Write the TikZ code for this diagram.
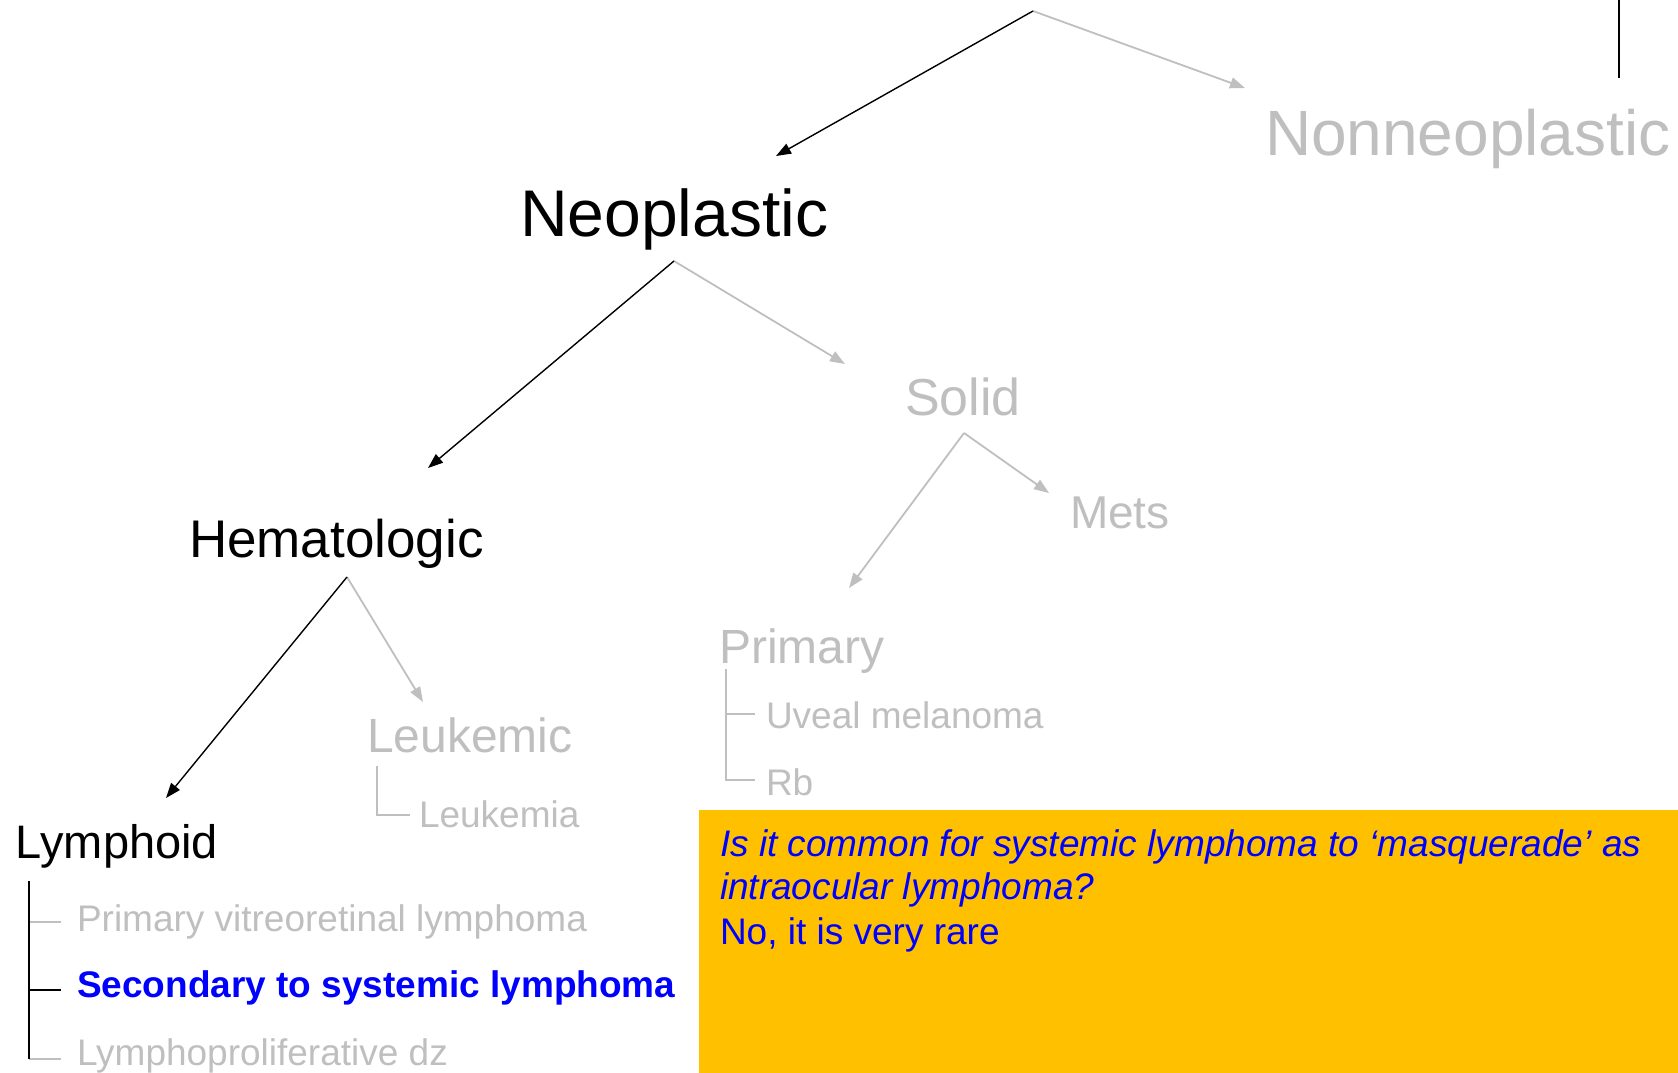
\documentclass[tikz,border=0pt]{standalone}
\usepackage{fontspec}
\setmainfont{Liberation Sans}
\usetikzlibrary{arrows.meta}
\definecolor{lgrey}{HTML}{BFBFBF}
\definecolor{gold}{HTML}{FFC000}
\definecolor{qblue}{HTML}{0000FF}
\newcommand{\fs}[1]{\fontsize{#1}{#1}\selectfont}
\tikzset{
  lbl/.style={anchor=base west, inner sep=0pt, outer sep=0pt},
  blk/.style={draw=black, line width=1.4pt, -{Triangle[length=15pt,width=11pt]}},
  gry/.style={draw=lgrey, line width=1.8pt, -{Triangle[length=15pt,width=11pt]}},
  brk/.style={draw=lgrey, line width=1.5pt},
  brkb/.style={draw=black, line width=1.5pt},
}
\begin{document}
\begin{tikzpicture}[x=1pt,y=1pt]
\useasboundingbox (0,0) rectangle (1678,-1073);
% texts
\node[lbl, text=lgrey, font=\fs{64}] (nonneo) at (1265,-155) {Nonneoplastic};
\node[lbl, text=black, font=\fs{66}] (neo) at (520,-236) {Neoplastic};
\node[lbl, text=lgrey, font=\fs{52}] (solid) at (905,-415) {Solid};
\node[lbl, text=lgrey, font=\fs{46}] (mets) at (1070,-528) {Mets};
\node[lbl, text=black, font=\fs{53}] (hema) at (189,-557) {Hematologic};
\node[lbl, text=lgrey, font=\fs{48}] (prim) at (719,-663) {Primary};
\node[lbl, text=lgrey, font=\fs{37}] (uveal) at (766,-728) {Uveal melanoma};
\node[lbl, text=lgrey, font=\fs{37}] (rb) at (766,-795) {Rb};
\node[lbl, text=lgrey, font=\fs{48}] (leukc) at (367,-752) {Leukemic};
\node[lbl, text=lgrey, font=\fs{37}] (leuka) at (419,-827) {Leukemia};
\node[lbl, text=black, font=\fs{47}] (lymph) at (16,-858) {Lymphoid};
\node[lbl, text=lgrey, font=\fs{37}] (pvrl) at (77,-931) {Primary vitreoretinal lymphoma};
\node[lbl, text=qblue, font=\fs{37}\bfseries] (sec) at (77,-997) {Secondary to systemic lymphoma};
\node[lbl, text=lgrey, font=\fs{37}] (lpd) at (77,-1065) {Lymphoproliferative dz};
% top vertical line
\coordinate (vt) at (1619,0);
\coordinate (vb) at (1619,-78);
\draw[black, line width=1.5pt] (vt) -- (vb);
% arrow vertices and tips
\coordinate (top) at (1033,-11);
\coordinate (tneo) at (776,-156);
\coordinate (tnon) at (1245,-88);
\coordinate (vneo) at (674,-261);
\coordinate (thema) at (428,-468);
\coordinate (tsolid) at (845,-364);
\coordinate (vsolid) at (964,-433);
\coordinate (tprim) at (849,-588);
\coordinate (tmets) at (1049,-493);
\coordinate (vhema) at (347,-577);
\coordinate (tlymph) at (166,-798);
\coordinate (tleuk) at (423,-702);
\draw[gry] (top) -- (tnon);
\draw[blk] (top) -- (tneo);
\draw[gry] (vneo) -- (tsolid);
\draw[blk] (vneo) -- (thema);
\draw[gry] (vsolid) -- (tprim);
\draw[gry] (vsolid) -- (tmets);
\draw[gry] (vhema) -- (tleuk);
\draw[blk] (vhema) -- (tlymph);
% brackets
\coordinate (pb1) at (726,-669);
\coordinate (pb2) at (726,-714);
\coordinate (pb3) at (726,-780);
\draw[brk] (pb1) -- (pb3) -- ++(29,0);
\draw[brk] (pb2) -- ++(29,0);
\coordinate (lb1) at (377,-766);
\coordinate (lb2) at (377,-815);
\draw[brk] (lb1) -- (lb2) -- ++(33,0);
\coordinate (yb1) at (29,-881);
\coordinate (yb2) at (29,-922);
\coordinate (yb3) at (29,-990);
\coordinate (yb4) at (29,-1059);
\draw[brk] (yb2) -- ++(32,0);
\draw[brk] (yb4) -- ++(32,0);
\draw[brkb] (yb3) -- ++(32,0);
\draw[brkb] (yb1) -- (yb4);
% box
\node[fill=gold, draw=none, minimum width=979pt, minimum height=263pt, inner sep=0pt, anchor=north west] (box) at (699,-810) {};
\node[lbl, text=qblue, font=\fs{37}\itshape] (q1) at (720,-856) {Is it common for systemic lymphoma to ‘masquerade’ as};
\node[lbl, text=qblue, font=\fs{37}\itshape] (q2) at (720,-899) {intraocular lymphoma?};
\node[lbl, text=qblue, font=\fs{37}] (ans) at (720,-944) {No, it is very rare};
\end{tikzpicture}
\end{document}
